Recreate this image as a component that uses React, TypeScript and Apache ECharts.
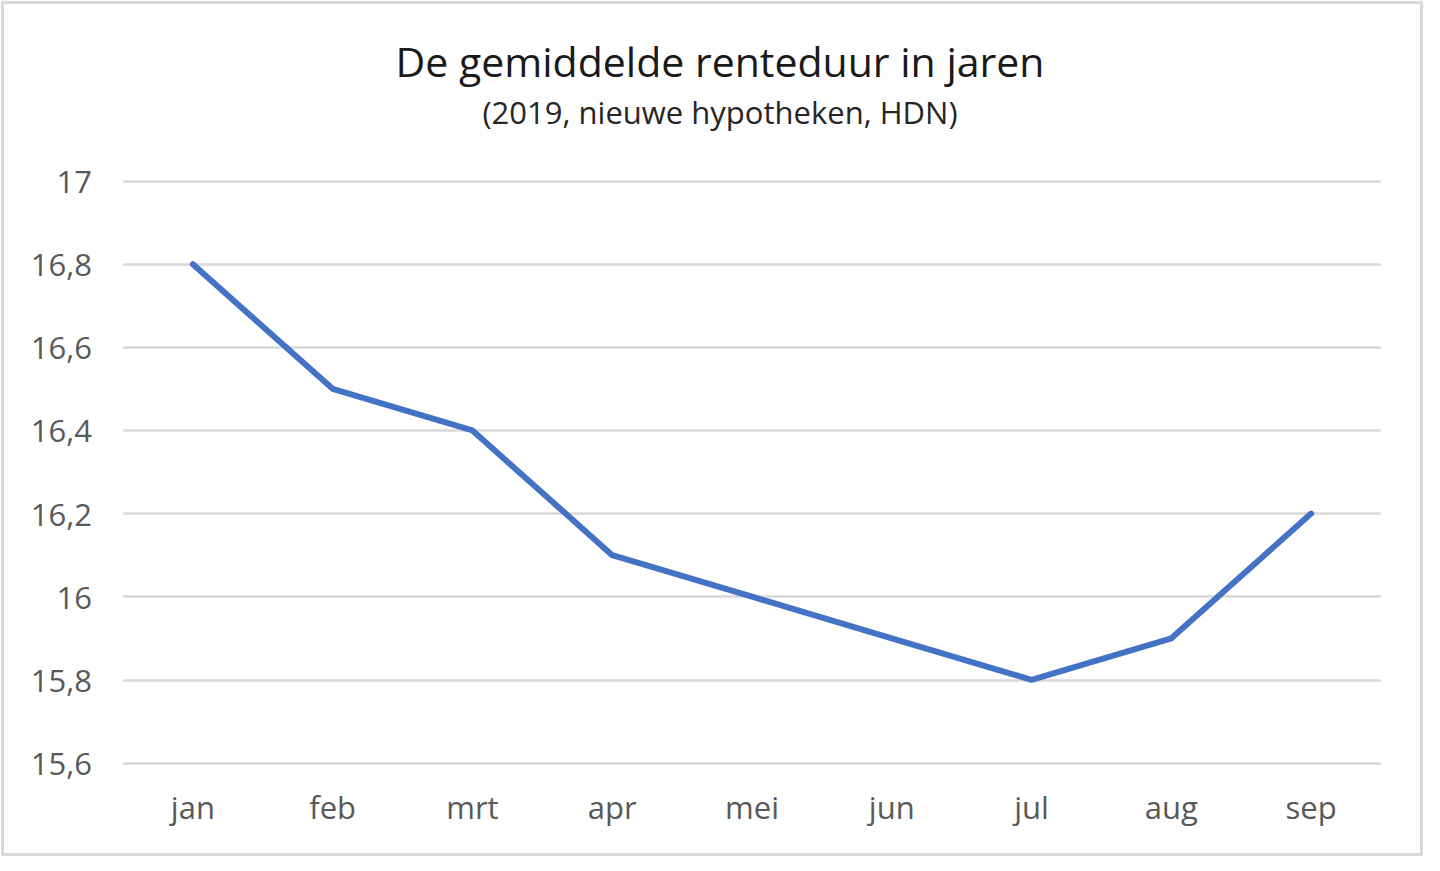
import React, { useEffect, useRef } from "react";
import * as echarts from "echarts";

const categories = ["jan", "feb", "mrt", "apr", "mei", "jun", "jul", "aug", "sep"];
const values = [16.8, 16.5, 16.4, 16.1, 16.0, 15.9, 15.8, 15.9, 16.2];
const titleText = "De gemiddelde renteduur in jaren";
const subtitleText = "(2019, nieuwe hypotheken, HDN)";
const yMin = 15.6;
const yMax = 17;
const yStep = 0.2;

const FONT = "'Open Sans', 'Noto Sans', sans-serif";

export default function App() {
  const ref = useRef<HTMLDivElement>(null);
  useEffect(() => {
    if (!ref.current) return;
    const chart = echarts.init(ref.current, undefined, { renderer: "svg" });
    chart.setOption({
      animation: false,
      backgroundColor: "#ffffff",
      title: [
        {
          text: titleText,
          left: "center",
          top: 35,
          textStyle: { fontFamily: FONT, fontSize: 41, fontWeight: "normal", color: "#1a1a1a" },
        },
        {
          text: subtitleText,
          left: "center",
          top: 91,
          textStyle: { fontFamily: FONT, fontSize: 31, fontWeight: "normal", color: "#262626" },
        },
      ],
      graphic: [
        {
          type: "rect",
          shape: { x: 2.5, y: 2.5, width: 1419, height: 852 },
          style: { fill: "none", stroke: "#d9d9d9", lineWidth: 3 },
          silent: true,
        },
      ],
      grid: { left: 123, right: 59, top: 181, bottom: 108, containLabel: false },
      xAxis: {
        type: "category",
        data: categories,
        boundaryGap: true,
        axisLine: { show: false },
        axisTick: { show: false },
        axisLabel: { fontFamily: FONT, fontSize: 31, color: "#595959", margin: 28 },
      },
      yAxis: {
        type: "value",
        min: yMin,
        max: yMax,
        interval: yStep,
        axisLine: { show: false },
        axisTick: { show: false },
        splitLine: { lineStyle: { color: "#d9d9d9", width: 2.5 } },
        axisLabel: {
          fontFamily: FONT,
          fontSize: 31,
          color: "#595959",
          margin: 31,
          formatter: (v: number) => {
            const r = Math.round(v * 10) / 10;
            return String(r).replace(".", ",");
          },
        },
      },
      series: [
        {
          type: "line",
          data: values,
          symbol: "none",
          lineStyle: { color: "#4472c4", width: 6, join: "round", cap: "round" },
        },
      ],
    });
    return () => chart.dispose();
  }, []);
  return (
    <div
      ref={ref}
      style={{ position: "fixed", left: 0, top: 0, width: 1440, height: 871, background: "#fff" }}
    />
  );
}
